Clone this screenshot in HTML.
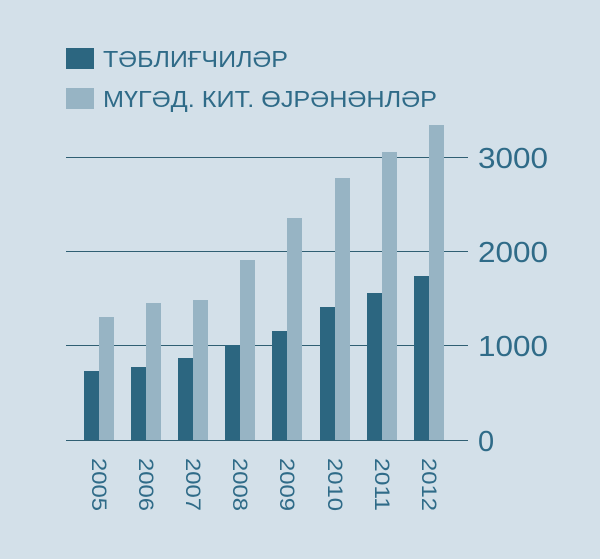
<!DOCTYPE html>
<html><head><meta charset="utf-8"><style>
html,body{margin:0;padding:0;background:#d3e0e9;}
svg{display:block;}
text{font-family:"Liberation Sans","DejaVu Sans",sans-serif;fill:#2f6b88;}
</style></head><body>
<svg width="600" height="559" viewBox="0 0 600 559">
<rect width="600" height="559" fill="#d3e0e9"/>
<rect x="66" y="48" width="28" height="21" fill="#2c6680"/>
<rect x="66" y="88" width="28" height="21" fill="#97b4c4"/>
<text x="103" y="67" font-size="23" textLength="185" lengthAdjust="spacingAndGlyphs">ТӘБЛИҒЧИЛӘР</text>
<text x="103" y="107" font-size="23" textLength="334" lengthAdjust="spacingAndGlyphs">МҮГӘД. КИТ. ӨЈРӘНӘНЛӘР</text>
<g stroke="#2f5f73" stroke-width="1">
<line x1="66" x2="468" y1="157.5" y2="157.5"/>
<line x1="66" x2="468" y1="251.5" y2="251.5"/>
<line x1="66" x2="468" y1="345.5" y2="345.5"/>
</g>
<g fill="#97b4c4">
<rect x="99" y="317" width="15" height="123"/>
<rect x="146" y="303" width="15" height="137"/>
<rect x="193" y="300" width="15" height="140"/>
<rect x="240" y="260" width="15" height="180"/>
<rect x="287" y="218" width="15" height="222"/>
<rect x="335" y="178" width="15" height="262"/>
<rect x="382" y="152" width="15" height="288"/>
<rect x="429" y="125" width="15" height="315"/>
</g>
<g fill="#2c6680">
<rect x="84" y="371" width="15" height="69"/>
<rect x="131" y="367" width="15" height="73"/>
<rect x="178" y="358" width="15" height="82"/>
<rect x="225" y="345" width="15" height="95"/>
<rect x="272" y="331" width="15" height="109"/>
<rect x="320" y="307" width="15" height="133"/>
<rect x="367" y="293" width="15" height="147"/>
<rect x="414" y="276" width="15" height="164"/>
</g>
<line x1="66" x2="468" y1="440.5" y2="440.5" stroke="#2f5f73" stroke-width="1"/>
<g font-size="29">
<text x="478" y="168" textLength="70" lengthAdjust="spacingAndGlyphs">3000</text>
<text x="478" y="262" textLength="70" lengthAdjust="spacingAndGlyphs">2000</text>
<text x="478" y="356" textLength="70" lengthAdjust="spacingAndGlyphs">1000</text>
<text x="478" y="451">0</text>
</g>
<g font-size="21">
<text transform="translate(92,458) rotate(90)" textLength="53" lengthAdjust="spacingAndGlyphs">2005</text>
<text transform="translate(139,458) rotate(90)" textLength="53" lengthAdjust="spacingAndGlyphs">2006</text>
<text transform="translate(186,458) rotate(90)" textLength="53" lengthAdjust="spacingAndGlyphs">2007</text>
<text transform="translate(233,458) rotate(90)" textLength="53" lengthAdjust="spacingAndGlyphs">2008</text>
<text transform="translate(280,458) rotate(90)" textLength="53" lengthAdjust="spacingAndGlyphs">2009</text>
<text transform="translate(328,458) rotate(90)" textLength="53" lengthAdjust="spacingAndGlyphs">2010</text>
<text transform="translate(375,458) rotate(90)" textLength="53" lengthAdjust="spacingAndGlyphs">2011</text>
<text transform="translate(422,458) rotate(90)" textLength="53" lengthAdjust="spacingAndGlyphs">2012</text>
</g>
</svg>
</body></html>
